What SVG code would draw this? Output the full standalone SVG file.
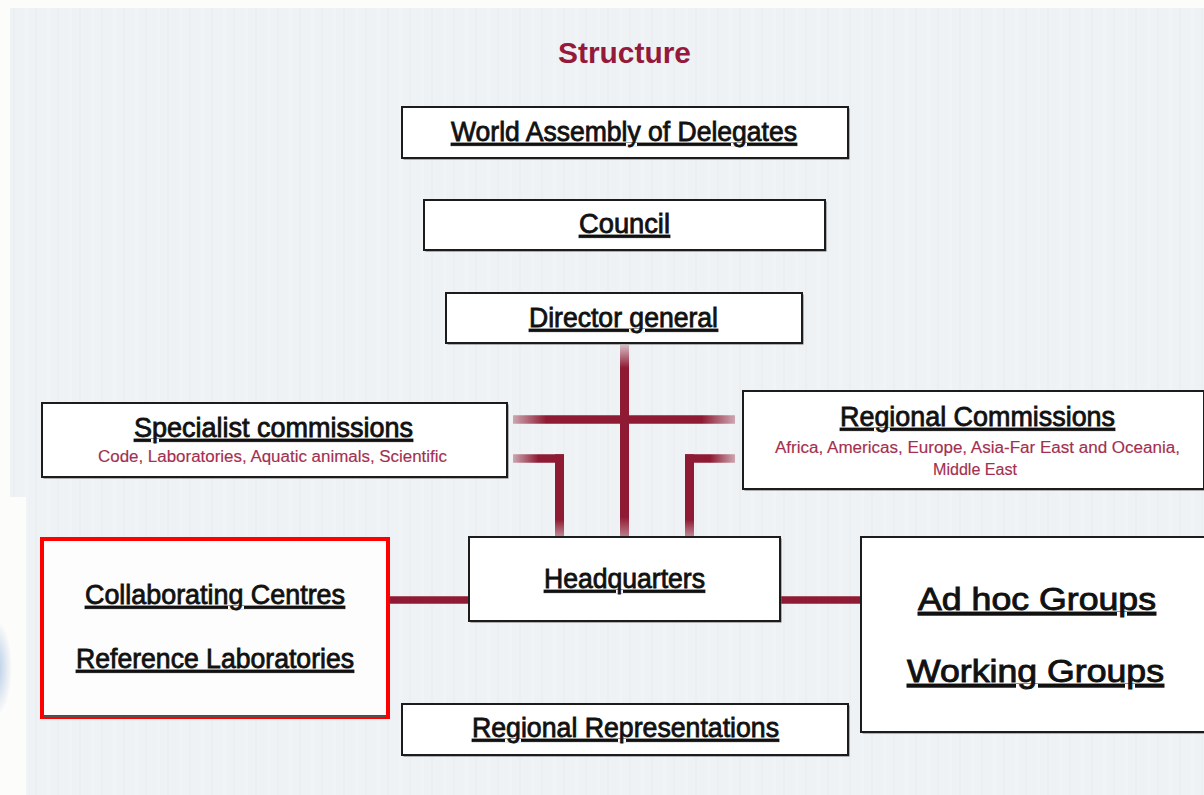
<svg xmlns="http://www.w3.org/2000/svg" width="1204" height="795" viewBox="0 0 1204 795">
  <style>
    .box { fill: #ffffff; stroke: #1c1c1c; stroke-width: 2; }
    .shadow { fill: #6a6a6a; }
    .lbl { font-family: "Liberation Sans", Arial, sans-serif; font-size: 27px; fill: #111; stroke: #111; stroke-width: 0.8; text-anchor: middle; text-decoration: underline; }
    .big { font-size: 32px; stroke-width: 0.9; }
    .sub { font-family: "Liberation Sans", Arial, sans-serif; font-size: 16px; fill: #a3304f; stroke: #a3304f; stroke-width: 0.15; text-anchor: middle; }
    .title { font-family: "Liberation Sans", Arial, sans-serif; font-size: 30px; font-weight: bold; fill: #94193b; text-anchor: middle; }
    .conn { fill: none; stroke-linecap: butt; }
  </style>
  <defs>
    <pattern id="stripes" x="0" y="0" width="22" height="10" patternUnits="userSpaceOnUse">
      <rect width="22" height="10" fill="#eef2f5"/>
      <rect x="3" width="3" height="10" fill="#f1f4f6"/>
      <rect x="13" width="2" height="10" fill="#ebeff2"/>
    </pattern>
    <radialGradient id="blob" cx="0.5" cy="0.5" r="0.5">
      <stop offset="0" stop-color="#9fbbe0" stop-opacity="0.8"/>
      <stop offset="1" stop-color="#9fbbe0" stop-opacity="0"/>
    </radialGradient>
    <linearGradient id="gV" x1="0" y1="345" x2="0" y2="536" gradientUnits="userSpaceOnUse">
      <stop offset="0" stop-color="#8f1a33" stop-opacity="0.25"/>
      <stop offset="0.12" stop-color="#8f1a33" stop-opacity="1"/>
      <stop offset="0.9" stop-color="#8f1a33" stop-opacity="1"/>
      <stop offset="1" stop-color="#8f1a33" stop-opacity="0.55"/>
    </linearGradient>
    <linearGradient id="gH" x1="513" y1="0" x2="735" y2="0" gradientUnits="userSpaceOnUse">
      <stop offset="0" stop-color="#8f1a33" stop-opacity="0.35"/>
      <stop offset="0.15" stop-color="#8f1a33" stop-opacity="1"/>
      <stop offset="0.85" stop-color="#8f1a33" stop-opacity="1"/>
      <stop offset="1" stop-color="#8f1a33" stop-opacity="0.35"/>
    </linearGradient>
    <linearGradient id="gLH" x1="513" y1="0" x2="564" y2="0" gradientUnits="userSpaceOnUse">
      <stop offset="0" stop-color="#8f1a33" stop-opacity="0.35"/>
      <stop offset="0.5" stop-color="#8f1a33" stop-opacity="1"/>
      <stop offset="1" stop-color="#8f1a33" stop-opacity="1"/>
    </linearGradient>
    <linearGradient id="gRH" x1="735" y1="0" x2="685" y2="0" gradientUnits="userSpaceOnUse">
      <stop offset="0" stop-color="#8f1a33" stop-opacity="0.35"/>
      <stop offset="0.5" stop-color="#8f1a33" stop-opacity="1"/>
      <stop offset="1" stop-color="#8f1a33" stop-opacity="1"/>
    </linearGradient>
    <linearGradient id="gLV" x1="0" y1="454" x2="0" y2="536" gradientUnits="userSpaceOnUse">
      <stop offset="0" stop-color="#8f1a33" stop-opacity="1"/>
      <stop offset="0.8" stop-color="#8f1a33" stop-opacity="1"/>
      <stop offset="1" stop-color="#8f1a33" stop-opacity="0.5"/>
    </linearGradient>
  </defs>

  <!-- background -->
  <rect x="0" y="0" width="1204" height="795" fill="#fcfcfa"/>
  <rect x="10" y="8" width="1194" height="489" fill="url(#stripes)"/>
  <rect x="26" y="497" width="1178" height="298" fill="url(#stripes)"/>
  <ellipse cx="-4" cy="668" rx="16" ry="48" fill="url(#blob)"/>

  <text class="title" x="624.5" y="63" textLength="133" lengthAdjust="spacingAndGlyphs">Structure</text>

  <!-- connectors -->
  <g id="connectors">
    <line class="conn" x1="624.5" y1="345" x2="624.5" y2="536" stroke="url(#gV)" stroke-width="9"/>
    <line class="conn" x1="513" y1="419.5" x2="735" y2="419.5" stroke="url(#gH)" stroke-width="8.5"/>
    <line class="conn" x1="513" y1="458.5" x2="564" y2="458.5" stroke="url(#gLH)" stroke-width="8.5"/>
    <line class="conn" x1="559.5" y1="454.3" x2="559.5" y2="536" stroke="url(#gLV)" stroke-width="9"/>
    <line class="conn" x1="735" y1="458.5" x2="685" y2="458.5" stroke="url(#gRH)" stroke-width="8.5"/>
    <line class="conn" x1="689.5" y1="454.3" x2="689.5" y2="536" stroke="url(#gLV)" stroke-width="9"/>
    <line class="conn" x1="389" y1="600" x2="469" y2="600" stroke="#8f1a33" stroke-width="7.5"/>
    <line class="conn" x1="781" y1="600" x2="861" y2="600" stroke="#8f1a33" stroke-width="7.5"/>
  </g>

  <g id="world-assembly">
    <rect class="shadow" x="403.5" y="108.5" width="446" height="51"/>
    <rect class="box" x="402" y="107" width="446" height="51"/>
    <text class="lbl" x="624" y="141" textLength="346" lengthAdjust="spacingAndGlyphs">World Assembly of Delegates</text>
  </g>

  <g id="council">
    <rect class="shadow" x="425.5" y="201.5" width="401" height="50"/>
    <rect class="box" x="424" y="200" width="401" height="50"/>
    <text class="lbl" x="624.5" y="233" textLength="91" lengthAdjust="spacingAndGlyphs">Council</text>
  </g>

  <g id="director-general">
    <rect class="shadow" x="447.5" y="294.5" width="356" height="50"/>
    <rect class="box" x="446" y="293" width="356" height="50"/>
    <text class="lbl" x="623.5" y="327" textLength="189" lengthAdjust="spacingAndGlyphs">Director general</text>
  </g>

  <g id="specialist-commissions">
    <rect class="shadow" x="43.5" y="404.5" width="465" height="74"/>
    <rect class="box" x="42" y="403" width="465" height="74"/>
    <text class="lbl" x="273.5" y="437" textLength="279" lengthAdjust="spacingAndGlyphs">Specialist commissions</text>
    <text class="sub" x="272.5" y="462" textLength="349" lengthAdjust="spacingAndGlyphs">Code, Laboratories, Aquatic animals, Scientific</text>
  </g>

  <g id="regional-commissions">
    <rect class="shadow" x="744.5" y="392.5" width="461" height="98"/>
    <rect class="box" x="743" y="391" width="461" height="98"/>
    <text class="lbl" x="977.5" y="426" textLength="275" lengthAdjust="spacingAndGlyphs">Regional Commissions</text>
    <text class="sub" x="977.5" y="453" textLength="405" lengthAdjust="spacingAndGlyphs">Africa, Americas, Europe, Asia-Far East and Oceania,</text>
    <text class="sub" x="975" y="475" textLength="84" lengthAdjust="spacingAndGlyphs">Middle East</text>
  </g>

  <g id="headquarters">
    <rect class="shadow" x="470.5" y="538.5" width="311" height="84"/>
    <rect class="box" x="469" y="537" width="311" height="84"/>
    <text class="lbl" x="624.5" y="588" textLength="161" lengthAdjust="spacingAndGlyphs">Headquarters</text>
  </g>

  <g id="collaborating-centres">
    <rect x="42" y="539" width="346" height="178" fill="#fdfdfd" stroke="#ff0000" stroke-width="4"/>
    <line x1="44" y1="716.5" x2="386" y2="716.5" stroke="#555" stroke-width="1"/>
    <text class="lbl" x="215" y="604" textLength="260" lengthAdjust="spacingAndGlyphs">Collaborating Centres</text>
    <text class="lbl" x="215" y="668" textLength="278" lengthAdjust="spacingAndGlyphs">Reference Laboratories</text>
  </g>

  <g id="ad-hoc-groups">
    <rect class="shadow" x="862.5" y="538.5" width="343" height="195"/>
    <rect class="box" x="861" y="537" width="344" height="195"/>
    <text class="lbl big" x="1037" y="610" textLength="238" lengthAdjust="spacingAndGlyphs">Ad hoc Groups</text>
    <text class="lbl big" x="1035.5" y="682" textLength="257" lengthAdjust="spacingAndGlyphs">Working Groups</text>
  </g>

  <g id="regional-representations">
    <rect class="shadow" x="403.5" y="705.5" width="446" height="51"/>
    <rect class="box" x="402" y="704" width="446" height="51"/>
    <text class="lbl" x="625.5" y="737" textLength="307" lengthAdjust="spacingAndGlyphs">Regional Representations</text>
  </g>
</svg>
